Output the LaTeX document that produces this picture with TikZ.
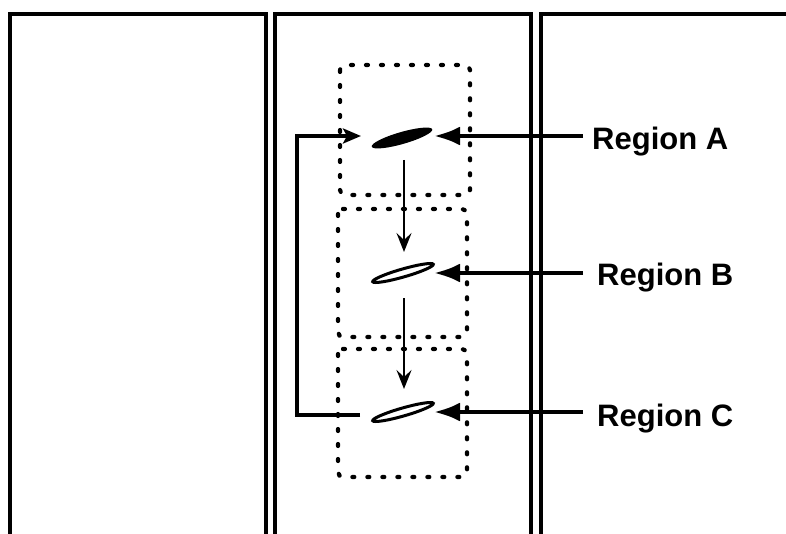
\documentclass[tikz,border=0pt]{standalone}
\usepackage{fontspec}
\setmainfont{Liberation Sans}
\usetikzlibrary{arrows.meta,shapes.geometric,calc}

\begin{document}
\begin{tikzpicture}[x=1pt,y=-1pt,
  panel/.style={line width=3.8pt, line join=miter},
  zone/.style={line width=4.2pt, line cap=round, dash pattern=on 2pt off 13pt, rounded corners=5pt},
  lens/.style={ellipse, inner sep=0pt, minimum width=63pt, minimum height=10pt, rotate=16},
  solidlens/.style={lens, fill=black, minimum height=12pt},
  hollowlens/.style={lens, draw=black, line width=3pt, fill=white, minimum height=8pt},
  label/.style={anchor=base west, inner sep=0pt, font=\bfseries\fontsize{31}{31}\selectfont},
  pointer/.style={line width=4.2pt, -{Latex[length=26pt,width=19pt]}},
  flow/.style={line width=2.2pt, -{Stealth[length=19pt,width=15pt,inset=7pt]}},
  loopback/.style={line width=3.4pt, -{Stealth[length=18pt,width=15pt,inset=4pt]}},
]
\useasboundingbox (0,0) rectangle (786,534);

% three side-by-side panels, open at the bottom
\draw[panel] (10,534) -- (10,14) -- (266,14) -- (266,534);
\draw[panel] (275,534) -- (275,14) -- (531,14) -- (531,534);
\draw[panel] (541,534) -- (541,14) -- (786,14);

% dotted zones
\draw[zone] (340,65) rectangle (470,195);
\draw[zone] (338,209) rectangle (467,337);
\draw[zone] (338,349) rectangle (467,477);

% lenses
\node[solidlens]  (elA) at (402,138) {};
\node[hollowlens] (elB) at (403,273) {};
\node[hollowlens] (elC) at (403,412) {};

% labels
\node[label] (labA) at (592,150) {Region A};
\node[label] (labB) at (597,286) {Region B};
\node[label] (labC) at (597,426) {Region C};

% arrow ends
\coordinate (tipA) at (434,136);
\coordinate (tipB) at (434,273);
\coordinate (tipC) at (434,412);
\coordinate (srcA) at (583,136);
\coordinate (srcB) at (583,273);
\coordinate (srcC) at (583,412);

\draw[pointer] (srcA) -- (tipA);
\draw[pointer] (srcB) -- (tipB);
\draw[pointer] (srcC) -- (tipC);

% downward flow between lenses
\coordinate (dA) at (404,160);
\coordinate (uB) at (404,252);
\coordinate (dB) at (404,298);
\coordinate (uC) at (404,389);
\draw[flow] (dA) -- (uB);
\draw[flow] (dB) -- (uC);

% loop back from the last lens to the first
\coordinate (fbC) at (360,415);
\coordinate (fbA) at (361,136);
\coordinate (fbL) at (297,0);
\draw[loopback] (fbC) -- (fbC -| fbL) -- (fbA -| fbL) -- (fbA);
\end{tikzpicture}
\end{document}
